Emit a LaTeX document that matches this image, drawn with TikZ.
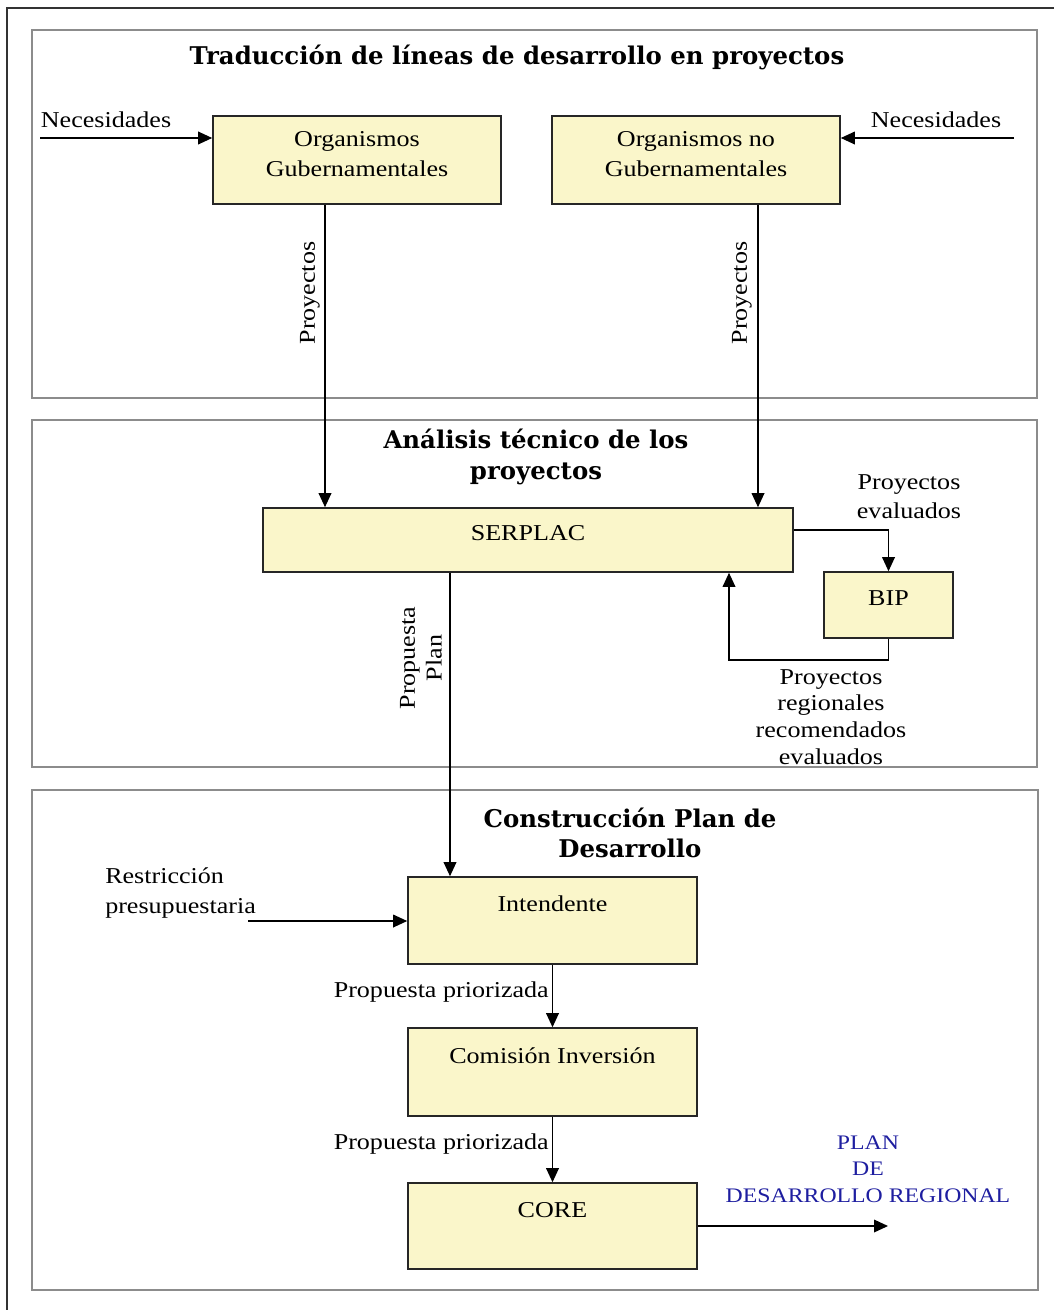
\documentclass[tikz,border=0pt]{standalone}
\usepackage{fontspec}
\setmainfont{Liberation Serif}[FakeStretch=1.15]
\newfontfamily\titlef{DejaVu Serif}
\usetikzlibrary{arrows.meta,calc}
\definecolor{boxfill}{HTML}{FAF6CA}
\definecolor{panelgray}{HTML}{8C8C8C}
\definecolor{planblue}{HTML}{1E1EA0}
\newcommand{\bodyfs}{\fontsize{17pt}{22.5pt}\selectfont}
\begin{document}
\begin{tikzpicture}[x=0.75pt,y=-0.75pt,
  box/.style={draw=black!85, fill=boxfill, line width=1.2pt, inner sep=0pt, align=center, font=\bodyfs},
  topbox/.style={box, text height=12pt, text depth=25pt},
  panel/.style={draw=panelgray, line width=1.3pt},
  outer/.style={draw=black!80, line width=1.5pt},
  conn/.style={line width=1pt, draw=black},
  arr/.style={conn, -{Triangle[length=10.5pt,width=9.5pt]}},
  lbl/.style={font=\bodyfs, inner sep=0pt, align=center},
  ttl/.style={font=\titlef\bfseries\fontsize{18.3pt}{23pt}\selectfont, align=center, inner sep=0pt}
]
\useasboundingbox (0,0) rectangle (1054,1310);
\fill[white] (0,0) rectangle (1054,1310);
\draw[outer] (1054,8) -- (7,8) -- (7,1310);

% panels
\draw[panel] (32,30) rectangle (1037,398);
\draw[panel] (32,420) rectangle (1037,767);
\draw[panel] (32,790) rectangle (1038,1290);

% titles
\node[ttl] (t1) at (517,57) {Traducción de líneas de desarrollo en proyectos};
\node[ttl] (t2) at (536,457) {Análisis técnico de los\\proyectos};
\node[ttl] (t3) at (630,833) {Construcción Plan de\\Desarrollo};

% boxes
\node[box, minimum width=216pt, minimum height=66pt, text depth=9pt] (og) at (357,160) {Organismos\\Gubernamentales};
\node[box, minimum width=216pt, minimum height=66pt, text depth=9pt] (ong) at (696,160) {Organismos no\\Gubernamentales};
\node[box, minimum width=397.5pt, minimum height=48pt, text height=11pt, text depth=11pt] (ser) at (528,540) {SERPLAC};
\node[box, minimum width=96.75pt, minimum height=49.5pt, text height=11pt, text depth=10pt] (bip) at (888.5,605) {BIP};
\node[topbox, minimum width=216.75pt, minimum height=65.25pt] (int) at (552.5,920.5) {Intendente};
\node[topbox, minimum width=216.75pt, minimum height=66pt] (com) at (552.5,1072) {Comisión Inversión};
\node[topbox, minimum width=216.75pt, minimum height=64.5pt] (core) at (552.5,1226) {CORE};

% panel 1 connectors
\node[lbl] (necl) at (106,120) {Necesidades};
\node[lbl] (necr) at (936,120) {Necesidades};
\coordinate (nl) at (40,138);
\coordinate (nr) at (1014,138);
\draw[arr] (nl) -- (nl -| og.west);
\draw[arr] (nr) -- (nr -| ong.east);

\draw[arr] ([xshift=-24pt]og.south) -- ([xshift=-24pt]og.south |- ser.north);
\node[lbl, rotate=90] (p1) at (310,293) {Proyectos};
\draw[arr] ([xshift=46.5pt]ong.south) -- ([xshift=46.5pt]ong.south |- ser.north);
\node[lbl, rotate=90] (p2) at (742,293) {Proyectos};

% panel 2 connectors
\draw[arr] ([yshift=7.5pt]ser.east) -| (bip.north);
\node[lbl, font=\fontsize{17pt}{22pt}\selectfont] (pe) at (909,497) {Proyectos\\evaluados};
\coordinate (ret) at (729,660);
\draw[arr] (bip.south) |- (ret) -- (ret |- ser.south);
\node[lbl, font=\fontsize{17pt}{20pt}\selectfont] (prre) at (831,717) {Proyectos\\regionales\\recomendados\\evaluados};

\draw[arr] ([xshift=-58.5pt]ser.south) -- ([xshift=-58.5pt]ser.south |- int.north);
\node[lbl, rotate=90, font=\fontsize{17pt}{20pt}\selectfont] (pp) at (421,658) {Propuesta\\Plan};

% panel 3 connectors
\node[lbl, anchor=west, align=left] (rest) at (105,893) {Restricción\\presupuestaria};
\coordinate (rs) at (248,921);
\draw[arr] (rs) -- (rs -| int.west);

\draw[arr] (int.south) -- (com.north);
\node[lbl, anchor=east] (pz1) at (549,992) {Propuesta priorizada};
\draw[arr] (com.south) -- (core.north);
\node[lbl, anchor=east] (pz2) at (549,1144) {Propuesta priorizada};

\coordinate (out) at (888,1226);
\draw[arr] (core.east) -- (out);
\node[lbl, text=planblue, font=\fontsize{15.5pt}{20pt}\selectfont] (plan) at (868,1169) {PLAN\\DE\\DESARROLLO REGIONAL};
\end{tikzpicture}
\end{document}
